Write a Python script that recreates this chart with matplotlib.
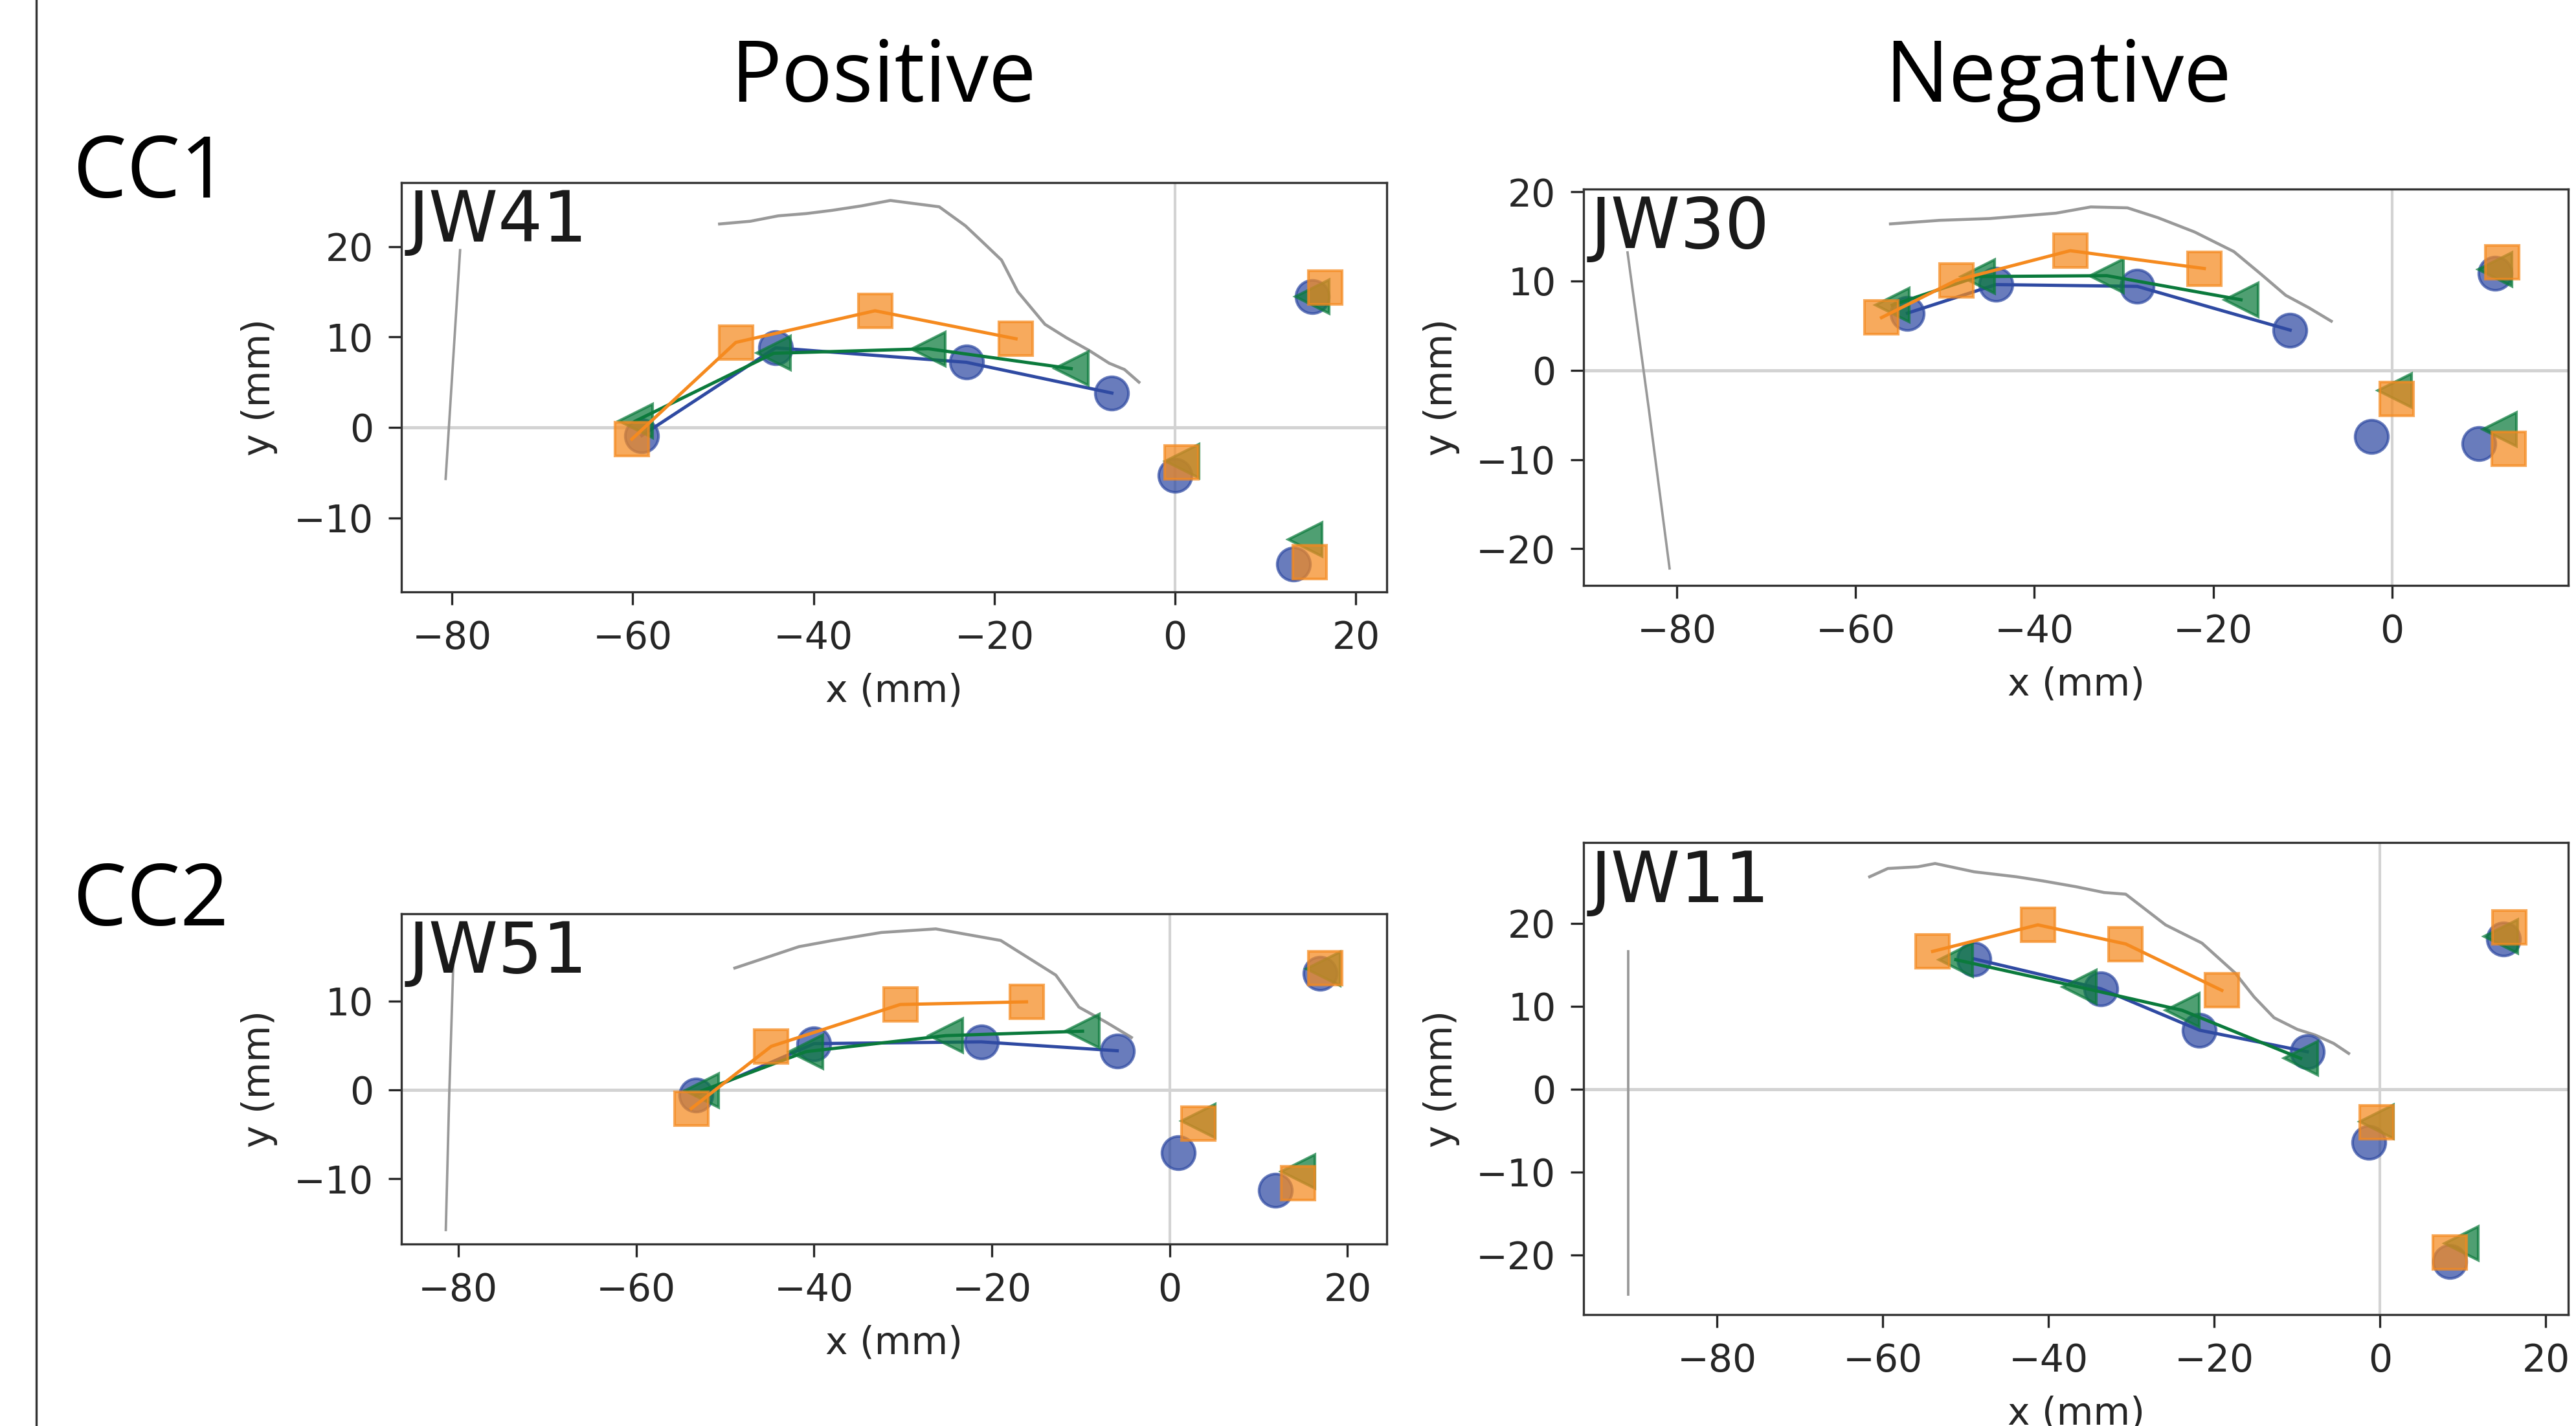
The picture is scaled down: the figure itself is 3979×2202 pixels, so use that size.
import numpy as np
import matplotlib.pyplot as plt
from matplotlib.lines import Line2D
from matplotlib.ticker import MultipleLocator

# ---- JW41 (CC1, Positive) ----
jw41_circ_x = [-59.0, -44.2, -23.1, -7.0, 0.0, 15.2, 13.1]
jw41_circ_y = [-0.9, 8.8, 7.2, 3.8, -5.3, 14.5, -15.1]
jw41_tri_x = [-59.7, -44.4, -27.3, -11.5, 0.8, 15.2, 14.4]
jw41_tri_y = [0.7, 8.2, 8.7, 6.5, -3.7, 14.5, -12.4]
jw41_sq_x = [-60.1, -48.6, -33.2, -17.6, 0.7, 16.6, 14.9]
jw41_sq_y = [-1.3, 9.4, 12.9, 9.8, -3.9, 15.5, -14.9]
jw41_top_x = [-50.4, -47.0, -43.9, -40.8, -38.0, -34.7, -31.5, -26.1, -23.2, -21.4,
              -19.2, -17.4, -14.4, -12.0, -9.5, -7.3, -5.6, -4.0]
jw41_top_y = [22.5, 22.8, 23.4, 23.65, 24.0, 24.5, 25.1, 24.4, 22.3, 20.6,
              18.5, 15.0, 11.4, 9.9, 8.5, 7.1, 6.4, 5.0]
jw41_mid_x = [-79.1, -79.9, -80.7]
jw41_mid_y = [19.6, 7.0, -5.7]

# ---- JW30 (CC1, Negative) ----
jw30_circ_x = [-54.2, -44.3, -28.5, -11.4, -2.3, 11.5, 9.7]
jw30_circ_y = [6.4, 9.6, 9.4, 4.5, -7.4, 10.9, -8.2]
jw30_tri_x = [-55.9, -46.3, -31.9, -16.9, 0.3, 11.5, 12.0]
jw30_tri_y = [7.3, 10.5, 10.6, 7.9, -2.3, 11.3, -6.6]
jw30_sq_x = [-57.1, -48.7, -36.0, -21.0, 0.5, 12.3, 13.0]
jw30_sq_y = [5.9, 10.1, 13.4, 11.4, -3.2, 12.1, -8.8]
jw30_top_x = [-56.1, -50.6, -45.0, -37.6, -33.7, -29.6, -26.2, -22.1, -17.7, -14.7,
              -11.9, -9.3, -6.8]
jw30_top_y = [16.4, 16.8, 17.0, 17.6, 18.3, 18.2, 17.1, 15.5, 13.3, 10.8,
              8.4, 7.0, 5.5]
jw30_mid_x = [-85.5, -83.1, -80.8]
jw30_mid_y = [13.2, -4.5, -22.2]

# ---- JW51 (CC2, Positive) ----
jw51_circ_x = [-53.3, -40.0, -21.2, -5.9, 1.0, 16.9, 11.9]
jw51_circ_y = [-0.6, 5.2, 5.4, 4.4, -7.1, 13.1, -11.3]
jw51_tri_x = [-52.6, -40.9, -25.2, -9.8, 3.2, 17.3, 14.4]
jw51_tri_y = [-0.1, 4.3, 6.1, 6.6, -3.5, 13.6, -9.2]
jw51_sq_x = [-53.8, -44.8, -30.3, -16.1, 3.2, 17.5, 14.4]
jw51_sq_y = [-2.1, 4.9, 9.6, 9.9, -3.8, 13.7, -10.5]
jw51_top_x = [-48.9, -45.3, -41.7, -37.9, -32.4, -26.3, -19.0, -15.9, -12.8, -10.2,
              -7.3, -4.3]
jw51_top_y = [13.7, 14.9, 16.1, 16.8, 17.7, 18.1, 16.8, 14.85, 12.9, 9.3,
              7.7, 5.9]
jw51_mid_x = [-80.5, -81.0, -81.4]
jw51_mid_y = [16.0, 0.0, -15.75]

# ---- JW11 (CC2, Negative) ----
jw11_circ_x = [-49.0, -33.7, -21.8, -8.8, -1.4, 14.9, 8.4]
jw11_circ_y = [15.7, 12.1, 7.1, 4.5, -6.4, 18.1, -20.8]
jw11_tri_x = [-51.2, -36.3, -23.9, -9.6, -0.4, 14.6, 9.8]
jw11_tri_y = [15.6, 12.3, 9.5, 3.7, -3.9, 18.4, -18.6]
jw11_sq_x = [-54.0, -41.3, -30.7, -19.1, -0.4, 15.55, 8.4]
jw11_sq_y = [16.6, 19.8, 17.5, 11.9, -4.0, 19.5, -19.7]
jw11_top_x = [-61.6, -59.4, -55.8, -53.7, -49.0, -43.9, -40.7, -36.7, -33.3, -30.7,
              -25.9, -21.5, -17.5, -15.2, -12.8, -10.0, -7.8, -5.6, -3.8]
jw11_top_y = [25.6, 26.6, 26.8, 27.2, 26.2, 25.6, 25.1, 24.4, 23.7, 23.5,
              19.8, 17.6, 14.0, 11.1, 8.6, 7.2, 6.5, 5.5, 4.3]
jw11_mid_x = [-90.75, -90.75]
jw11_mid_y = [16.6, -24.8]

BLUE = '#2f4aa2'
GREEN = '#0b7a3c'
ORANGE = '#f58a1f'
GRAY = '#999999'
TXT = '#262626'

plt.rcParams['font.family'] = 'DejaVu Sans'
plt.rcParams['font.size'] = 14
plt.rcParams['text.color'] = TXT
plt.rcParams['axes.labelcolor'] = TXT
plt.rcParams['xtick.color'] = TXT
plt.rcParams['ytick.color'] = TXT


def draw_panel(ax, name, circ, tri, sq, top, mid, xlim, ylim):
    ax.axhline(0, color='#d3d3d3', lw=1.2, zorder=0)
    ax.axvline(0, color='#d3d3d3', lw=1.0, zorder=0)
    ax.plot(top[0], top[1], color=GRAY, lw=1.1, zorder=1)
    ax.plot(mid[0], mid[1], color=GRAY, lw=0.9, zorder=1)

    series = [(circ, 'o', BLUE), (tri, '<', GREEN), (sq, 's', ORANGE)]
    for k, (pts, mk, col) in enumerate(series):
        x, y = np.asarray(pts[0]), np.asarray(pts[1])
        ax.plot(x, y, linestyle='none', marker=mk, markersize=12.3,
                markerfacecolor=col, markeredgecolor=col, markeredgewidth=1,
                alpha=0.72, zorder=2 + k)
        # first four landmarks are joined
        ax.plot(x[:4], y[:4], color=col, lw=1.2, zorder=2.5 + k)

    ax.set_xlim(xlim)
    ax.set_ylim(ylim)
    ax.xaxis.set_major_locator(MultipleLocator(20))
    ax.yaxis.set_major_locator(MultipleLocator(10))
    ax.tick_params(length=4.8, width=0.8, pad=5.5, labelsize=14)
    for s in ax.spines.values():
        s.set_color('#333333')
        s.set_linewidth(0.8)
    ax.set_xlabel('x (mm)', labelpad=6)
    ax.set_ylabel('y (mm)', labelpad=6)
    ax.annotate(name, xy=(0, 1), xycoords='axes fraction', xytext=(2.5, -2),
                textcoords='offset points', ha='left', va='top', fontsize=26,
                color='#1a1a1a', zorder=10)


fig = plt.figure(figsize=(3979 / 300, 2202 / 300), dpi=300)

ax1 = fig.add_axes([0.1558, 0.5849, 0.3825, 0.2872])
draw_panel(ax1, 'JW41', (jw41_circ_x, jw41_circ_y), (jw41_tri_x, jw41_tri_y),
           (jw41_sq_x, jw41_sq_y), (jw41_top_x, jw41_top_y), (jw41_mid_x, jw41_mid_y),
           (-85.6, 23.4), (-18.2, 27.1))

ax2 = fig.add_axes([0.6148, 0.5895, 0.3822, 0.2779])
draw_panel(ax2, 'JW30', (jw30_circ_x, jw30_circ_y), (jw30_tri_x, jw30_tri_y),
           (jw30_sq_x, jw30_sq_y), (jw30_top_x, jw30_top_y), (jw30_mid_x, jw30_mid_y),
           (-90.4, 19.7), (-24.1, 20.3))

ax3 = fig.add_axes([0.1558, 0.1278, 0.3825, 0.2314])
draw_panel(ax3, 'JW51', (jw51_circ_x, jw51_circ_y), (jw51_tri_x, jw51_tri_y),
           (jw51_sq_x, jw51_sq_y), (jw51_top_x, jw51_top_y), (jw51_mid_x, jw51_mid_y),
           (-86.4, 24.4), (-17.3, 19.8))

ax4 = fig.add_axes([0.6148, 0.0781, 0.3822, 0.3309])
draw_panel(ax4, 'JW11', (jw11_circ_x, jw11_circ_y), (jw11_tri_x, jw11_tri_y),
           (jw11_sq_x, jw11_sq_y), (jw11_top_x, jw11_top_y), (jw11_mid_x, jw11_mid_y),
           (-96.1, 22.7), (-27.2, 29.7))

# headings
head = dict(family='Open Sans', fontsize=31.5, color='black')
fig.text(0.3428, 0.9287, 'Positive', ha='center', va='baseline', **head)
fig.text(0.799, 0.9287, 'Negative', ha='center', va='baseline', **head)
fig.text(0.0285, 0.8615, 'CC1', ha='left', va='baseline', **head)
fig.text(0.0285, 0.351, 'CC2', ha='left', va='baseline', **head)

# vertical rule at left edge
fig.add_artist(Line2D([0.0141, 0.0141], [0, 1], color='#333333', lw=0.8))

fig.savefig('out.png', dpi=300)
